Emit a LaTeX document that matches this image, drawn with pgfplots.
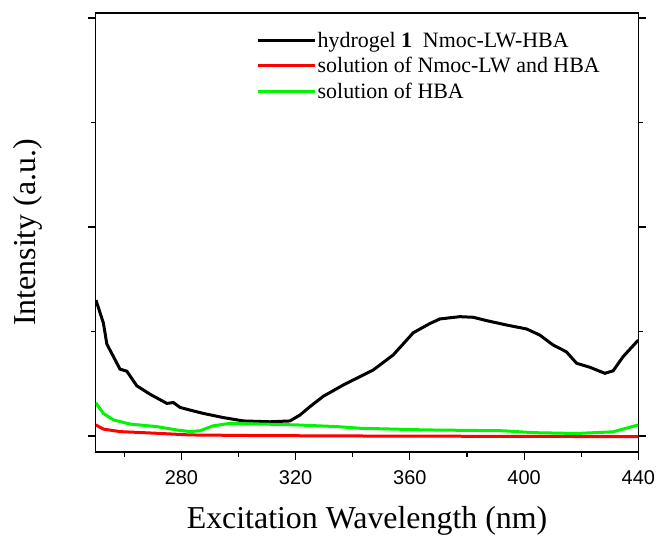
\documentclass[border=0pt]{standalone}
\usepackage{pgfplots}
\pgfplotsset{compat=1.18}
\usepackage{fontspec}
\setmainfont{Liberation Serif}
\setsansfont{Liberation Sans}
\definecolor{myred}{RGB}{255,0,0}
\definecolor{mygreen}{RGB}{0,245,0}
\begin{document}
\begin{tikzpicture}
\begin{axis}[
  name=main,
  scale only axis,
  width=542.6bp, height=439bp,
  xmin=250, xmax=440,
  ymin=-0.0766, ymax=2.024,
  xtick={280,320,360,400,440},
  minor xtick={260,300,340,380,420},
  ytick={0,1,2},
  minor ytick={0.5,1.5},
  yticklabels={},
  xtick pos=bottom,
  tick align=outside,
  major tick length=8bp,
  minor tick length=4.5bp,
  every tick/.style={black, line width=1.1bp},
  axis line style={line width=1.2bp},
  /pgf/number format/assume math mode=true,
  xticklabel style={font=\fontsize{20}{24}\selectfont\sffamily, yshift=-7bp},
  xlabel={Excitation Wavelength (nm)},
  ylabel={Intensity (a.u.)},
  xlabel style={font=\fontsize{32}{38}\selectfont, at={(axis description cs:0.5,0)}, anchor=base, yshift=-76bp},
  ylabel style={font=\fontsize{32}{38}\selectfont, at={(axis description cs:-0.1524,0.5)}, anchor=north, inner sep=0pt},
  legend style={draw=none, fill=none, at={(axis description cs:0.2954,0.96)}, anchor=north west,
    font=\fontsize{22}{24}\selectfont, inner sep=0pt, row sep=5.5bp,
    nodes={inner sep=1.5bp}},
  legend cell align=left,
  legend image code/.code={\draw[#1] (0bp,0bp) -- (57bp,0bp);},
]
\addplot[black, line width=3bp] coordinates {
(250.1,0.65) (252.7,0.54) (253.9,0.44) (256.2,0.38) (258.5,0.32) (260.9,0.31)
(264.4,0.24) (269,0.20) (274.9,0.156) (277.2,0.16) (279.5,0.137) (283,0.124)
(287.7,0.108) (294.7,0.088) (301.7,0.072) (311,0.068) (318,0.072) (321.5,0.10)
(325,0.14) (329.7,0.19) (336.7,0.244) (341.4,0.276) (347.2,0.316) (354.2,0.388)
(361.2,0.494) (367,0.538) (370.5,0.56) (377.5,0.571) (382.2,0.568) (386.9,0.552)
(393.9,0.531) (400.9,0.512) (405.5,0.483) (410.2,0.435) (414.8,0.403) (418.4,0.348)
(423,0.329) (428.3,0.30) (431.2,0.312) (434.7,0.38) (440,0.459)
};
\addlegendentry{hydrogel \textbf{1}\ \ Nmoc-LW-HBA}
\addplot[myred, line width=3bp] coordinates {
(250,0.053) (252.7,0.033) (258.5,0.021) (271.3,0.013) (283,0.005) (306,0.002)
(342.5,0.0) (400,-0.002) (440,-0.003)
};
\addlegendentry{solution of Nmoc-LW and HBA}
\addplot[mygreen, line width=3bp] coordinates {
(250,0.159) (252.7,0.108) (256.2,0.077) (262,0.057) (271.3,0.045) (278.4,0.029)
(283,0.021) (286.5,0.025) (291.2,0.049) (297,0.06) (308.7,0.057) (320.3,0.053)
(334.3,0.045) (342.5,0.037) (365.8,0.029) (392.7,0.025) (403.2,0.016) (418.4,0.012)
(431.2,0.02) (440,0.053)
};
\addlegendentry{solution of HBA}
\end{axis}
\pgfresetboundingbox
\path[use as bounding box] ([shift={(-95.7bp,-85bp)}]main.south west) rectangle ([shift={(22.7bp,13bp)}]main.north east);
\end{tikzpicture}
\end{document}
